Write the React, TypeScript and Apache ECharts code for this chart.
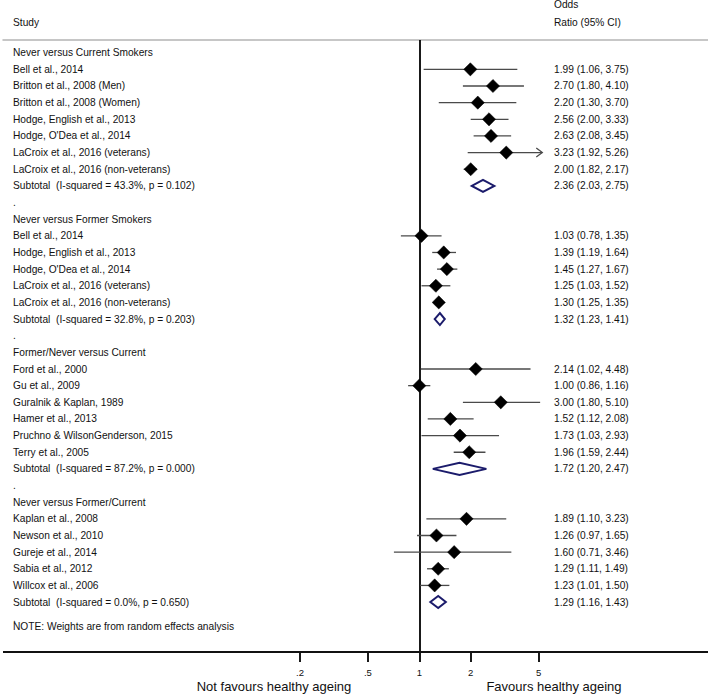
import React, { useEffect, useRef } from "react";
import * as echarts from "echarts";

// ---------- data ----------
const groupTitles = [
  "Never versus Current Smokers",
  "Never versus Former Smokers",
  "Former/Never versus Current",
  "Never versus Former/Current",
];

const g1Studies = [
  "Bell et al., 2014",
  "Britton et al., 2008 (Men)",
  "Britton et al., 2008 (Women)",
  "Hodge, English et al., 2013",
  "Hodge, O'Dea et al., 2014",
  "LaCroix et al., 2016 (veterans)",
  "LaCroix et al., 2016 (non-veterans)",
];
const g1OR = [1.99, 2.7, 2.2, 2.56, 2.63, 3.23, 2.0];
const g1Lo = [1.06, 1.8, 1.3, 2.0, 2.08, 1.92, 1.82];
const g1Hi = [3.75, 4.1, 3.7, 3.33, 3.45, 5.26, 2.17];

const g2Studies = [
  "Bell et al., 2014",
  "Hodge, English et al., 2013",
  "Hodge, O'Dea et al., 2014",
  "LaCroix et al., 2016 (veterans)",
  "LaCroix et al., 2016 (non-veterans)",
];
const g2OR = [1.03, 1.39, 1.45, 1.25, 1.3];
const g2Lo = [0.78, 1.19, 1.27, 1.03, 1.25];
const g2Hi = [1.35, 1.64, 1.67, 1.52, 1.35];

const g3Studies = [
  "Ford et al., 2000",
  "Gu et al., 2009",
  "Guralnik & Kaplan, 1989",
  "Hamer et al., 2013",
  "Pruchno & WilsonGenderson, 2015",
  "Terry et al., 2005",
];
const g3OR = [2.14, 1.0, 3.0, 1.52, 1.73, 1.96];
const g3Lo = [1.02, 0.86, 1.8, 1.12, 1.03, 1.59];
const g3Hi = [4.48, 1.16, 5.1, 2.08, 2.93, 2.44];

const g4Studies = [
  "Kaplan et al., 2008",
  "Newson et al., 2010",
  "Gureje et al., 2014",
  "Sabia et al., 2012",
  "Willcox et al., 2006",
];
const g4OR = [1.89, 1.26, 1.6, 1.29, 1.23];
const g4Lo = [1.1, 0.97, 0.71, 1.11, 1.01];
const g4Hi = [3.23, 1.65, 3.46, 1.49, 1.5];

const subtotalI2 = ["43.3%", "32.8%", "87.2%", "0.0%"];
const subtotalP = ["0.102", "0.203", "0.000", "0.650"];
const subtotalOR = [2.36, 1.32, 1.72, 1.29];
const subtotalLo = [2.03, 1.23, 1.2, 1.16];
const subtotalHi = [2.75, 1.41, 2.47, 1.43];

const tickValues = [0.2, 0.5, 1, 2, 5];
const tickLabels = [".2", ".5", "1", "2", "5"];
const ciDisplayMax = 5.25;

const noteText = "NOTE: Weights are from random effects analysis";
const leftAxisTitle = "Not favours healthy ageing";
const rightAxisTitle = "Favours healthy ageing";

// ---------- layout ----------
const W = 708;
const H = 694;
const FONT = "'Liberation Sans', Arial, sans-serif";
const TEXT_COLOR = "#111";
const LEFT_X = 13;
const RIGHT_X = 554;
const NAVY = "#1b1b6b";
const Y_MIN = -0.763;
const AXIS_ROW = 36; // row position of the bottom axis line
const TICK_END_ROW = 36.6; // y-axis max = end of the tick marks
const X_MIN = -5.614;
const X_MAX = 3.893;

type Row = {
  row: number;
  kind: "head" | "study" | "sub" | "dot";
  label: string;
  or?: number;
  lo?: number;
  hi?: number;
};

function buildRows(): Row[] {
  const groups = [
    [g1Studies, g1OR, g1Lo, g1Hi],
    [g2Studies, g2OR, g2Lo, g2Hi],
    [g3Studies, g3OR, g3Lo, g3Hi],
    [g4Studies, g4OR, g4Lo, g4Hi],
  ] as [string[], number[], number[], number[]][];
  const rows: Row[] = [];
  let r = 0;
  groups.forEach(([names, ors, los, his], gi) => {
    rows.push({ row: r++, kind: "head", label: groupTitles[gi] });
    names.forEach((n, i) => {
      rows.push({ row: r++, kind: "study", label: n, or: ors[i], lo: los[i], hi: his[i] });
    });
    rows.push({
      row: r++,
      kind: "sub",
      label: `Subtotal  (I-squared = ${subtotalI2[gi]}, p = ${subtotalP[gi]})`,
      or: subtotalOR[gi],
      lo: subtotalLo[gi],
      hi: subtotalHi[gi],
    });
    rows.push({ row: r++, kind: "dot", label: "." });
  });
  return rows;
}

const fmt = (v: number) => v.toFixed(2);

function txt(text: string, x: number, y: number, size: number, align = "left", vAlign = "middle") {
  return {
    type: "text",
    x,
    y,
    silent: true,
    style: {
      text,
      fill: TEXT_COLOR,
      font: `${size}px ${FONT}`,
      align,
      verticalAlign: vAlign,
      textAlign: align,
      textVerticalAlign: vAlign,
    },
  };
}

export default function App() {
  const ref = useRef<HTMLDivElement>(null);

  useEffect(() => {
    if (!ref.current) return;
    const chart = echarts.init(ref.current, undefined, { renderer: "svg" });
    const rows = buildRows();
    const logTicks = tickValues.map((v) => Math.log(v));

    const renderItem = (params: any, api: any) => {
      const r = rows[params.dataIndex];
      const y = api.coord([0, r.row])[1];
      const children: any[] = [];
      if (params.dataIndex === 0) {
        // bottom axis line, placed through the scales
        const a = api.coord([X_MIN, AXIS_ROW]);
        const b = api.coord([X_MAX, AXIS_ROW]);
        children.push({
          type: "line",
          shape: { x1: a[0], y1: a[1], x2: b[0], y2: b[1] },
          style: { stroke: "#111", lineWidth: 1.8 },
        });
      }
      children.push(txt(r.label, LEFT_X, y, 10.2));
      if (r.kind === "study" && r.or != null) {
        const hiShown = Math.min(r.hi!, ciDisplayMax);
        const xl = api.coord([Math.log(r.lo!), r.row])[0];
        const xh = api.coord([Math.log(hiShown), r.row])[0];
        const xc = api.coord([Math.log(r.or), r.row])[0];
        children.push({
          type: "line",
          shape: { x1: xl, y1: y, x2: xh, y2: y },
          style: { stroke: "#4a4a4a", lineWidth: 1.3 },
        });
        if (r.hi! > ciDisplayMax) {
          children.push({
            type: "polyline",
            shape: { points: [[xh - 6, y - 4.5], [xh, y], [xh - 6, y + 4.5]] },
            style: { stroke: "#4a4a4a", lineWidth: 1.3, fill: "none" },
          });
        }
        const s = 6.6;
        children.push({
          type: "polygon",
          shape: { points: [[xc, y - s], [xc + s, y], [xc, y + s], [xc - s, y]] },
          style: { fill: "#000", stroke: "#000", lineWidth: 0.5 },
        });
        children.push(txt(`${fmt(r.or)} (${fmt(r.lo!)}, ${fmt(r.hi!)})`, RIGHT_X, y, 10.2));
      } else if (r.kind === "sub" && r.or != null) {
        const xl = api.coord([Math.log(r.lo!), r.row])[0];
        const xh = api.coord([Math.log(r.hi!), r.row])[0];
        const xc = api.coord([Math.log(r.or), r.row])[0];
        const h = 6;
        children.push({
          type: "polygon",
          shape: { points: [[xl, y], [xc, y - h], [xh, y], [xc, y + h]] },
          style: { fill: "none", stroke: NAVY, lineWidth: 2 },
        });
        children.push(txt(`${fmt(r.or)} (${fmt(r.lo!)}, ${fmt(r.hi!)})`, RIGHT_X, y, 10.2));
      }
      return { type: "group", children };
    };

    // reference line at OR = 1 plus the tick marks, as markLine segments
    const markSegments: any[] = [[{ coord: [0, Y_MIN] }, { coord: [0, AXIS_ROW] }]];
    logTicks.forEach((t) => {
      markSegments.push([{ coord: [t, AXIS_ROW] }, { coord: [t, TICK_END_ROW] }]);
    });

    chart.setOption({
      animation: false,
      grid: { left: 3, right: 0, top: 40, bottom: 32, containLabel: false },
      xAxis: [
        {
          type: "value",
          min: X_MIN,
          max: X_MAX,
          position: "bottom",
          axisLine: { show: false, onZero: false },
          axisTick: { show: false },
          axisLabel: {
            show: true,
            customValues: logTicks,
            margin: 5,
            fontSize: 9.5,
            fontFamily: FONT,
            color: TEXT_COLOR,
            formatter: (v: number) => {
              let best = 0;
              logTicks.forEach((t, i) => {
                if (Math.abs(t - v) < Math.abs(logTicks[best] - v)) best = i;
              });
              return tickLabels[best];
            },
          },
          splitLine: { show: false },
        },
        {
          type: "value",
          min: X_MIN,
          max: X_MAX,
          position: "top",
          axisLine: { show: true, onZero: false, lineStyle: { color: "#b4b4b4", width: 1.5 } },
          axisTick: { show: false },
          axisLabel: { show: false },
          splitLine: { show: false },
        },
      ],
      yAxis: {
        type: "value",
        min: Y_MIN,
        max: TICK_END_ROW,
        inverse: true,
        show: false,
        splitLine: { show: false },
      },
      series: [
        {
          type: "custom",
          xAxisIndex: 0,
          clip: false,
          renderItem,
          data: rows.map((r) => [r.or != null ? Math.log(r.or) : 0, r.row]),
          markLine: {
            silent: true,
            symbol: "none",
            label: { show: false },
            lineStyle: { color: "#000", width: 1.8, type: "solid" },
            data: markSegments,
            z: 1,
          },
          z: 3,
        },
      ],
      graphic: [
        txt("Odds", RIGHT_X, 4, 10.2),
        txt("Ratio (95% CI)", RIGHT_X, 22, 10.2),
        txt("Study", LEFT_X, 22, 10.2),
        txt(noteText, LEFT_X, 626, 10.2),
        txt(leftAxisTitle, 274, 686, 13, "center"),
        txt(rightAxisTitle, 554, 686, 13, "center"),
      ],
    });

    return () => chart.dispose();
  }, []);

  return (
    <div
      ref={ref}
      style={{ position: "absolute", left: 0, top: 0, width: W, height: H, background: "#fff" }}
    />
  );
}
